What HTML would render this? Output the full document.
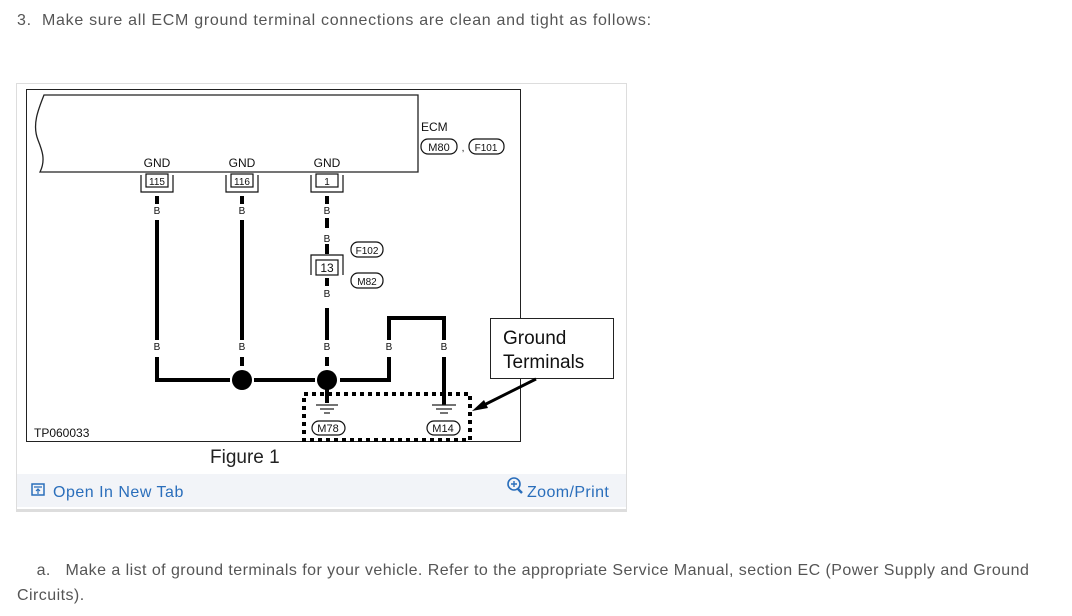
<!DOCTYPE html>
<html><head><meta charset="utf-8"><style>
html,body{margin:0;padding:0;background:#fff;width:1072px;height:616px;overflow:hidden;font-family:"Liberation Sans",Arial,sans-serif;}
.t{position:absolute;color:#555;font-size:16px;letter-spacing:0.7px;}
</style></head><body>
<div class="t" style="left:17px;top:12px;">3.&nbsp; Make sure all ECM ground terminal connections are clean and tight as follows:</div>
<div style="position:absolute;left:16px;top:83px;width:609px;height:425px;border:1px solid #ddd;border-bottom:3px solid #ddd;background:#fff;"></div>
<div style="position:absolute;left:17px;top:474px;width:609px;height:33px;background:#f2f4f8;"></div>
<svg style="position:absolute;left:0;top:0" width="1072" height="616" font-family="Liberation Sans,Arial,sans-serif">
<rect x="26.5" y="89.5" width="494" height="352" fill="none" stroke="#222" stroke-width="1"/>
<path d="M44,95 L418,95 L418,172 L40,172 C46,160 42,150 38,140 C32,125 38,110 44,95 Z" fill="none" stroke="#222" stroke-width="1.3"/>
<g font-size="12" fill="#111" text-anchor="middle">
<text x="157" y="167">GND</text><text x="242" y="167">GND</text><text x="327" y="167">GND</text>
</g>
<g fill="none" stroke="#111" stroke-width="1.2">
<rect x="146" y="174" width="22" height="13"/><path d="M141,175 V192 H173 V175"/>
<rect x="231" y="174" width="22" height="13"/><path d="M226,175 V192 H258 V175"/>
<rect x="316" y="174" width="22" height="13"/><path d="M311,175 V192 H343 V175"/>
<rect x="316" y="260" width="22" height="15"/><path d="M311,275 V255 H343 V275"/>
<rect x="351" y="242" width="32" height="15" rx="7"/>
<rect x="351" y="273" width="32" height="15" rx="7"/>
<rect x="421" y="139" width="36" height="15" rx="7"/>
<rect x="469" y="139" width="35" height="15" rx="7"/>
<rect x="312" y="421" width="33" height="14" rx="7"/>
<rect x="427" y="421" width="33" height="14" rx="7"/>
</g>
<g font-size="10" fill="#111" text-anchor="middle">
<text x="157" y="185">115</text><text x="242" y="185">116</text><text x="327" y="185">1</text>
<text x="327" y="272" font-size="12">13</text>
<text x="367" y="254">F102</text><text x="367" y="285">M82</text>
<text x="439" y="151" font-size="11">M80</text><text x="486" y="151">F101</text><text x="463" y="151">,</text>
<text x="328" y="432" font-size="11">M78</text><text x="443" y="432" font-size="11">M14</text>
<text x="157" y="214">B</text><text x="242" y="214">B</text><text x="327" y="214">B</text>
<text x="327" y="242">B</text><text x="327" y="297">B</text>
<text x="157" y="350">B</text><text x="242" y="350">B</text><text x="327" y="350">B</text><text x="389" y="350">B</text><text x="444" y="350">B</text>
</g>
<text x="421" y="131" font-size="12" fill="#111">ECM</text>
<text x="34" y="437" font-size="12" fill="#111">TP060033</text>
<g stroke="#000" stroke-width="4" fill="none">
<path d="M157,196 V204 M242,196 V204 M327,196 V204"/>
<path d="M157,220 V340 M242,220 V340"/>
<path d="M327,218 V228 M327,244 V254 M327,278 V286"/>
<path d="M327,308 V340"/>
<path d="M157,357 V380 H389 V357 M389,340 V318 H444 V340 M444,357 V405"/>
<path d="M242,357 V366 M327,357 V366 M327,380 V403"/>
</g>
<g stroke="#fff" stroke-width="6"><path d="M230,380 H236 M248,380 H254 M315,380 H320 M334,380 H340"/></g>
<circle cx="242" cy="380" r="10" fill="#000"/><circle cx="327" cy="380" r="10" fill="#000"/>
<g stroke="#222" stroke-width="1.2"><path d="M316,405 H338 M320,409 H334 M324,413 H330"/><path d="M432,405 H456 M436,409 H452 M440,413 H448"/></g>
<rect x="304" y="394" width="166" height="46" fill="none" stroke="#000" stroke-width="4" stroke-dasharray="4,4"/>
<rect x="490.5" y="318.5" width="123" height="60" fill="#fff" stroke="#222"/>
<text x="503" y="344" font-size="19" fill="#111">Ground</text>
<text x="503" y="368" font-size="19" fill="#111">Terminals</text>
<path d="M536,379 L480,407" stroke="#000" stroke-width="3"/>
<path d="M472,411 L484,400 L488,408 Z" fill="#000"/>
<text x="210" y="463" font-size="19" fill="#222">Figure 1</text>
<rect x="32" y="484" width="12" height="11" fill="none" stroke="#2a6ebb" stroke-width="1.5"/>
<path d="M34,487 H42 M38,494 V489 M36,491 L38,489 L40,491" stroke="#2a6ebb" stroke-width="1.2" fill="none"/>
<text x="53" y="497" font-size="16" fill="#2a6ebb" letter-spacing="0.5">Open In New Tab</text>
<circle cx="514" cy="484" r="6" fill="none" stroke="#2a6ebb" stroke-width="1.6"/>
<path d="M511,484 H517 M514,481 V487" stroke="#2a6ebb" stroke-width="1.4"/>
<path d="M518,489 L522,493" stroke="#2a6ebb" stroke-width="2.5"/>
<text x="527" y="497" font-size="16" fill="#2a6ebb" letter-spacing="0.4">Zoom/Print</text>
</svg>
<div class="t" style="left:17px;top:558px;width:1035px;line-height:25px;letter-spacing:0.45px;">&nbsp;&nbsp;&nbsp; a.&nbsp;&nbsp; Make a list of ground terminals for your vehicle. Refer to the appropriate Service Manual, section EC (Power Supply and Ground<br>Circuits).</div>
</body></html>
